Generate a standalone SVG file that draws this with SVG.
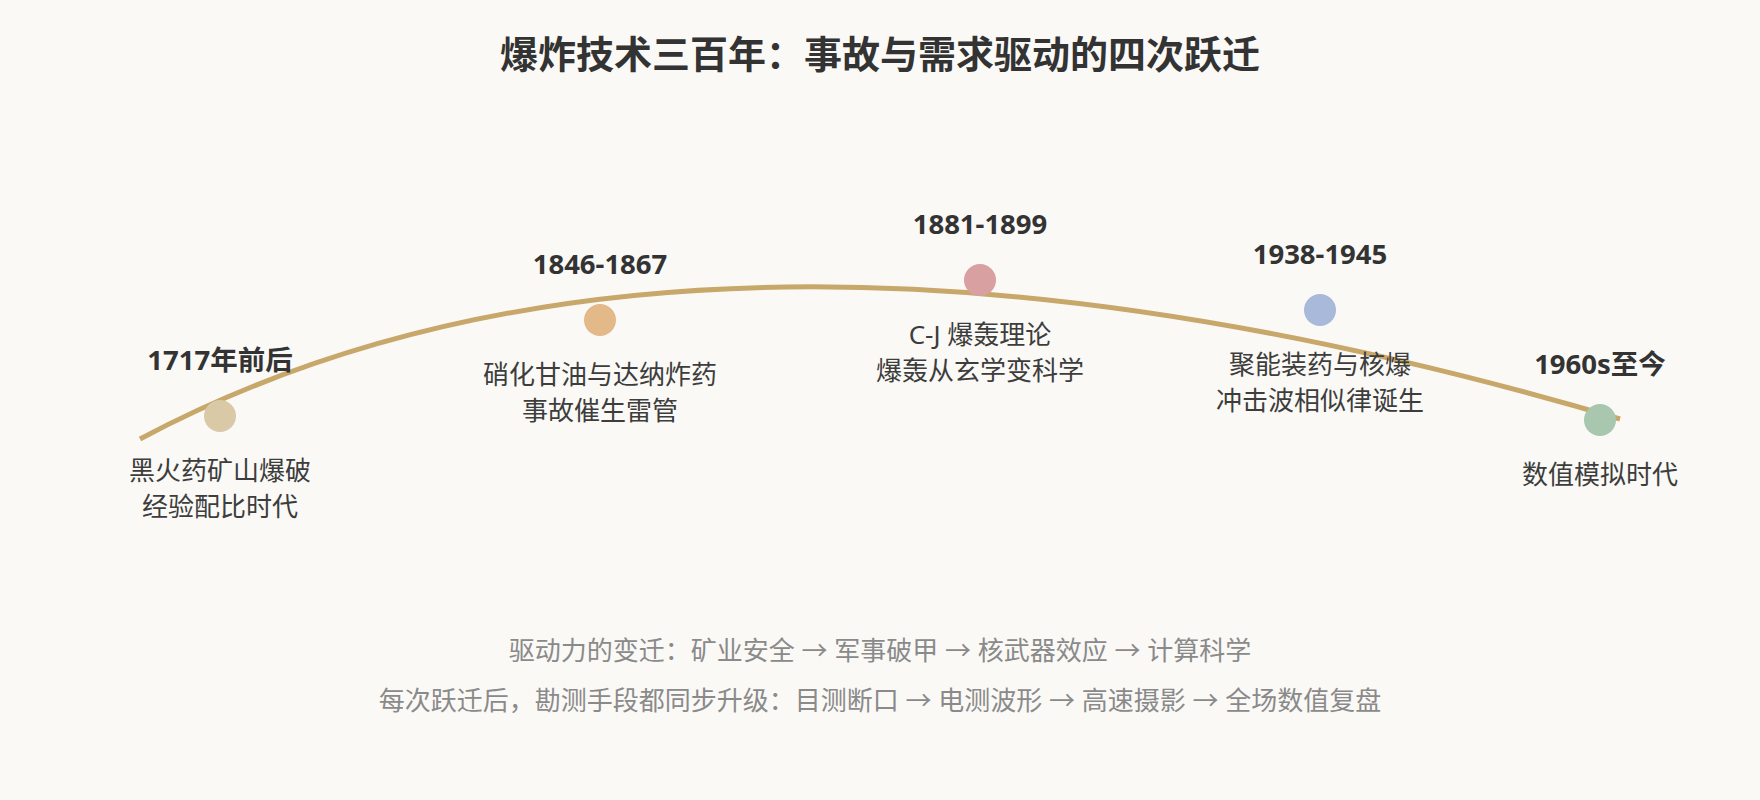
<svg xmlns="http://www.w3.org/2000/svg" width="1760" height="800" viewBox="0 0 1760 800">
<style>
text { font-family: "Noto Sans", "Noto Sans CJK SC", sans-serif; text-anchor: middle; }
.title { font-size: 38px; font-weight: 700; fill: #333333; }
.date { font-size: 27.5px; font-weight: 700; fill: #333333; }
.desc { font-size: 26px; font-weight: 400; fill: #3d3d3d; }
.foot { font-size: 26px; font-weight: 400; fill: #8a8a8a; }
.curve { fill: none; stroke: #c8a76a; stroke-width: 5; }
</style>
<rect x="0" y="0" width="1760" height="800" fill="#faf9f6"/>
<text class="title" x="880" y="68">爆炸技术三百年：事故与需求驱动的四次跃迁</text>
<g id="connectors">
  <path class="curve" d="M140,439 Q692,145 1620,419"/>
</g>
<g id="node-1717">
  <circle cx="220" cy="416" r="16" fill="#d9c9a7"/>
  <text class="date" x="220" y="370">1717年前后</text>
  <text class="desc" x="220" y="480">黑火药矿山爆破</text>
  <text class="desc" x="220" y="516">经验配比时代</text>
</g>
<g id="node-1846">
  <circle cx="600" cy="320" r="16" fill="#e3b98a"/>
  <text class="date" x="600" y="274">1846-1867</text>
  <text class="desc" x="600" y="384">硝化甘油与达纳炸药</text>
  <text class="desc" x="600" y="420">事故催生雷管</text>
</g>
<g id="node-1881">
  <circle cx="980" cy="280" r="16" fill="#d8a0a0"/>
  <text class="date" x="980" y="234">1881-1899</text>
  <text class="desc" x="980" y="344">C-J 爆轰理论</text>
  <text class="desc" x="980" y="380">爆轰从玄学变科学</text>
</g>
<g id="node-1938">
  <circle cx="1320" cy="310" r="16" fill="#a9b9da"/>
  <text class="date" x="1320" y="264">1938-1945</text>
  <text class="desc" x="1320" y="374">聚能装药与核爆</text>
  <text class="desc" x="1320" y="410">冲击波相似律诞生</text>
</g>
<g id="node-1960">
  <circle cx="1600" cy="420" r="16" fill="#a8c7ae"/>
  <text class="date" x="1600" y="374">1960s至今</text>
  <text class="desc" x="1600" y="484">数值模拟时代</text>
</g>
<g id="footer">
  <text class="foot" x="880" y="660">驱动力的变迁：矿业安全 → 军事破甲 → 核武器效应 → 计算科学</text>
  <text class="foot" x="880" y="710">每次跃迁后，勘测手段都同步升级：目测断口 → 电测波形 → 高速摄影 → 全场数值复盘</text>
</g>
</svg>
